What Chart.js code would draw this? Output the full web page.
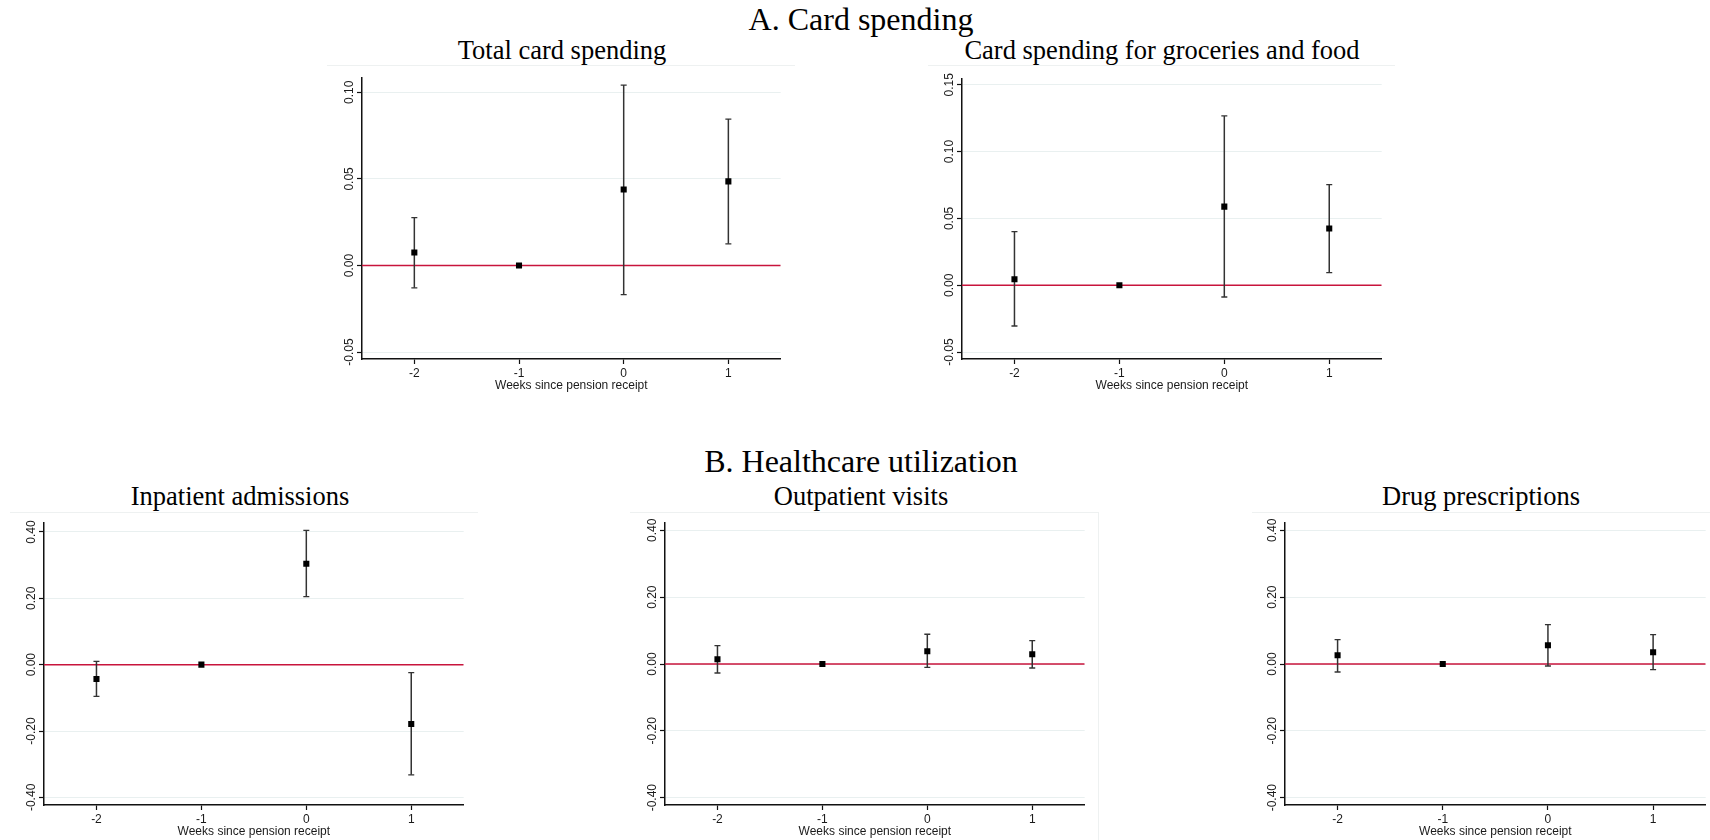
<!DOCTYPE html>
<html>
<head>
<meta charset="utf-8">
<script src="https://cdn.jsdelivr.net/npm/chart.js@4.4.1/dist/chart.umd.min.js"></script>
<style>
body { margin: 0; background: #fff; width: 1710px; height: 840px; position: relative; overflow: hidden; font-family: "Liberation Serif", serif; }
.t { position: absolute; white-space: nowrap; line-height: 1; transform: translateX(-50%); color: #000; }
.frame { position: absolute; border-top: 1px solid #eef1f1; }
.box { position: absolute; }
</style>
</head>
<body>
<div class="t" style="left:861px; top:3px; font-size:32px;">A. Card spending</div>
<div class="t" style="left:861px; top:445px; font-size:32px;">B. Healthcare utilization</div>

<div class="t" style="left:562px; top:37px; font-size:26.5px;">Total card spending</div>
<div class="t" style="left:1162px; top:37px; font-size:26.5px;">Card spending for groceries and food</div>
<div class="t" style="left:240px; top:483px; font-size:26.5px;">Inpatient admissions</div>
<div class="t" style="left:861px; top:483px; font-size:26.5px;">Outpatient visits</div>
<div class="t" style="left:1481px; top:483px; font-size:26.5px;">Drug prescriptions</div>

<div class="frame" style="left:327px; top:65px; width:468px;"></div>
<div class="frame" style="left:928px; top:65px; width:467px;"></div>
<div class="frame" style="left:10px; top:512px; width:468px;"></div>
<div class="frame" style="left:630px; top:512px; width:468px; height:328px; border-right:1px solid #eef1f1;"></div>
<div class="frame" style="left:1252px; top:512px; width:458px;"></div>

<script>
// weeks since pension receipt
const weeks = [-2, -1, 0, 1];
const weekTicks = [-2, -1, 0, 1];

// A. card spending
const totalCardEst = [0.0075, 0, 0.0439, 0.0486];
const totalCardLo = [-0.0129, 0, -0.0168, 0.0125];
const totalCardHi = [0.0277, 0, 0.1042, 0.0846];

const groceryEst = [0.0045, 0, 0.0588, 0.0424];
const groceryLo = [-0.0305, 0, -0.0088, 0.0094];
const groceryHi = [0.0401, 0, 0.1267, 0.0753];

// B. healthcare utilization
const inpatientEst = [-0.0432, 0, 0.304, -0.179];
const inpatientLo = [-0.0957, 0, 0.205, -0.332];
const inpatientHi = [0.010, 0, 0.4045, -0.024];

const outpatientEst = [0.0141, 0, 0.038, 0.029];
const outpatientLo = [-0.027, 0, -0.0099, -0.012];
const outpatientHi = [0.0549, 0, 0.089, 0.070];

const drugEst = [0.026, 0, 0.056, 0.035];
const drugLo = [-0.024, 0, -0.006, -0.017];
const drugHi = [0.073, 0, 0.118, 0.088];

// y tick values and labels
const cardTicks = [-0.05, 0, 0.05, 0.10];
const cardTickLabels = ["-0.05", "0.00", "0.05", "0.10"];
const groceryTicks = [-0.05, 0, 0.05, 0.10, 0.15];
const groceryTickLabels = ["-0.05", "0.00", "0.05", "0.10", "0.15"];
const healthTicks = [-0.40, -0.20, 0, 0.20, 0.40];
const healthTickLabels = ["-0.40", "-0.20", "0.00", "0.20", "0.40"];

const xMin = -2.5, xMax = 1.5;
const axisFont = "Liberation Sans";

const panels = [
    { est: totalCardEst, lo: totalCardLo, hi: totalCardHi, ticks: cardTicks, labels: cardTickLabels,
      ymin: -0.054, ymax: 0.1083, axisX: 362, right: 782, top: 78, bottom: 359 },
    { est: groceryEst, lo: groceryLo, hi: groceryHi, ticks: groceryTicks, labels: groceryTickLabels,
      ymin: -0.0552, ymax: 0.1543, axisX: 962, right: 1383, top: 79, bottom: 359 },
    { est: inpatientEst, lo: inpatientLo, hi: inpatientHi, ticks: healthTicks, labels: healthTickLabels,
      ymin: -0.423, ymax: 0.427, axisX: 44, right: 465, top: 523, bottom: 805 },
    { est: outpatientEst, lo: outpatientLo, hi: outpatientHi, ticks: healthTicks, labels: healthTickLabels,
      ymin: -0.422, ymax: 0.422, axisX: 665, right: 1086, top: 523, bottom: 805 },
    { est: drugEst, lo: drugLo, hi: drugHi, ticks: healthTicks, labels: healthTickLabels,
      ymin: -0.422, ymax: 0.422, axisX: 1285, right: 1707, top: 523, bottom: 805 },
];

const Y_W = 40, X_H = 34, PAD_TOP = 10, PAD_RIGHT = 3;

// rotated y tick labels, like Stata draws them
const yLabelPlugin = {
    id: "yLabels",
    afterDraw(chart, args, opts) {
        const s = chart.scales.y;
        const ctx = chart.ctx;
        ctx.save();
        ctx.font = "12px '" + axisFont + "'";
        ctx.fillStyle = "#1a1a1a";
        ctx.textAlign = "center";
        ctx.textBaseline = "alphabetic";
        opts.ticks.forEach((v, i) => {
            const y = s.getPixelForValue(v);
            ctx.save();
            ctx.translate(s.right - 9, y);
            ctx.rotate(-Math.PI / 2);
            ctx.fillText(opts.labels[i], 0, 0);
            ctx.restore();
        });
        ctx.restore();
    },
};

panels.forEach((p) => {
    const box = document.createElement("div");
    box.className = "box";
    const left = p.axisX - Y_W;
    const top = p.top - PAD_TOP;
    box.style.left = left + "px";
    box.style.top = top + "px";
    box.style.width = (p.right + PAD_RIGHT - left) + "px";
    box.style.height = (p.bottom + X_H - top) + "px";
    const canvas = document.createElement("canvas");
    box.appendChild(canvas);
    document.body.appendChild(box);

    const markers = weeks.map((w, i) => ({ x: w, y: p.est[i] }));
    const caps = [];
    const bars = [];
    weeks.forEach((w, i) => {
        if (p.hi[i] === p.lo[i]) return;
        caps.push({ x: w, y: p.lo[i] }, { x: w, y: p.hi[i] });
        bars.push({ x: w, y: p.lo[i] }, { x: w, y: p.hi[i] }, { x: w, y: null });
    });

    new Chart(canvas, {
        type: "scatter",
        data: {
            datasets: [
                { data: markers, pointStyle: "rect", pointRadius: 4.3, pointHoverRadius: 4.3,
                  backgroundColor: "#000", borderWidth: 0 },
                { data: caps, pointStyle: "line", pointRadius: 3, pointHoverRadius: 3,
                  borderColor: "#333", borderWidth: 1.3 },
                { data: bars, showLine: true, spanGaps: false, pointRadius: 0, pointHoverRadius: 0,
                  borderColor: "#333", borderWidth: 1.5 },
                { data: [{ x: xMin, y: 0 }, { x: xMax, y: 0 }], showLine: true, pointRadius: 0,
                  pointHoverRadius: 0, borderColor: "#c8143c", borderWidth: 1.5 },
            ],
        },
        options: {
            responsive: true,
            maintainAspectRatio: false,
            animation: false,
            events: [],
            layout: { padding: { top: PAD_TOP, right: PAD_RIGHT, left: 0, bottom: 0 } },
            plugins: {
                legend: { display: false },
                tooltip: { enabled: false },
                yLabels: { ticks: p.ticks, labels: p.labels },
            },
            scales: {
                x: {
                    type: "linear",
                    min: xMin,
                    max: xMax,
                    afterBuildTicks: (s) => { s.ticks = weekTicks.map((v) => ({ value: v })); },
                    afterFit: (s) => { s.height = X_H; },
                    grid: { drawOnChartArea: false, drawTicks: true, tickLength: 5, tickColor: "#111", tickWidth: 1.2 },
                    border: { color: "#111", width: 1.5 },
                    ticks: { padding: 2, color: "#1a1a1a", font: { family: axisFont, size: 12 },
                             callback: (v) => String(v) },
                    title: { display: true, text: "Weeks since pension receipt", color: "#1a1a1a",
                             font: { family: axisFont, size: 12 }, padding: { top: 0, bottom: 0 } },
                },
                y: {
                    type: "linear",
                    min: p.ymin,
                    max: p.ymax,
                    afterBuildTicks: (s) => { s.ticks = p.ticks.map((v) => ({ value: v })); },
                    afterFit: (s) => { s.width = Y_W; },
                    grid: { color: "#e9f0f0", lineWidth: 1, drawTicks: true, tickLength: 5, tickColor: "#111", tickWidth: 1.2 },
                    border: { color: "#111", width: 1.5 },
                    ticks: { display: false },
                },
            },
        },
        plugins: [yLabelPlugin],
    });
});
</script>
</body>
</html>
